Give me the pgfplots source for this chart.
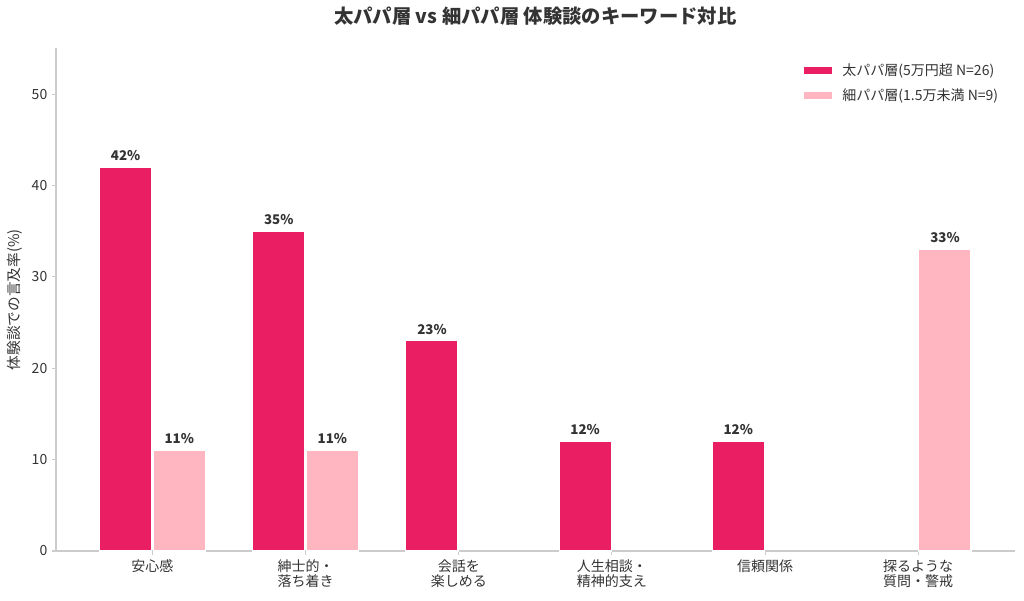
\documentclass[border=0pt]{standalone}
\usepackage{fontspec}
\setmainfont{Noto Sans CJK JP}
\usepackage{pgfplots}
\pgfplotsset{compat=1.18}

\definecolor{futo}{HTML}{E91E63}
\definecolor{hoso}{HTML}{FFB6C1}
\definecolor{txt}{HTML}{333333}
\definecolor{spine}{HTML}{CCCCCC}

\begin{document}
\begin{tikzpicture}
\useasboundingbox (-42pt,-36.75pt) rectangle (726pt,413.25pt);
\begin{axis}[
    scale only axis,
    width=719pt, height=377pt,
    at={(0,0)}, anchor=south west,
    xmin=-0.63, xmax=5.63,
    ymin=0, ymax=55,
    axis lines*=left,
    axis line style={spine, line width=0.8pt},
    ytick={0,10,20,30,40,50},
    xtick={0,1,2,3,4,5},
    xticklabels={安心感, {紳士的・\\落ち着き}, {会話を\\楽しめる}, {人生相談・\\精神的支え}, 信頼関係, {探るような\\質問・警戒}},
    xticklabel style={align=center, font=\fontsize{10.5pt}{11.5pt}\selectfont, text=txt},
    yticklabel style={font=\fontsize{10.5pt}{12pt}\selectfont, text=txt},
    /pgf/number format/assume math mode=true,
    tick style={spine, line width=0.8pt},
    tick align=outside,
    major tick length=3pt,
    ylabel={体験談での言及率(\%)},
    ylabel style={font=\fontsize{11pt}{12pt}\selectfont, text=txt},
    title={太パパ層 vs 細パパ層 体験談のキーワード対比},
    title style={font=\bfseries\fontsize{14.5pt}{16pt}\selectfont, text=txt, yshift=8pt},
    ybar, bar width=0.34,
    nodes near coords={\pgfmathprintnumber{\pgfplotspointmeta}\%},
    nodes near coords style={font=\bfseries\fontsize{10pt}{11pt}\selectfont, text=txt, yshift=1pt},
    legend style={draw=none, fill=none, at={(0.99,0.98)}, anchor=north east,
        font=\fontsize{10.5pt}{12pt}\selectfont, text=txt, row sep=4pt},
    legend cell align=left,
    legend image code/.code={\fill[#1] (0pt,-3pt) rectangle (22pt,3pt); \path (27pt,0pt);},
]
\addplot[fill=futo, draw=white, line width=0.8pt, bar shift=-0.175]
    coordinates {(0,42) (1,35) (2,23) (3,12) (4,12)};
\addplot[fill=hoso, draw=white, line width=0.8pt, bar shift=0.175]
    coordinates {(0,11) (1,11) (5,33)};
\legend{太パパ層(5万円超 N=26), 細パパ層(1.5万未満 N=9)}
\end{axis}
\end{tikzpicture}
\end{document}
